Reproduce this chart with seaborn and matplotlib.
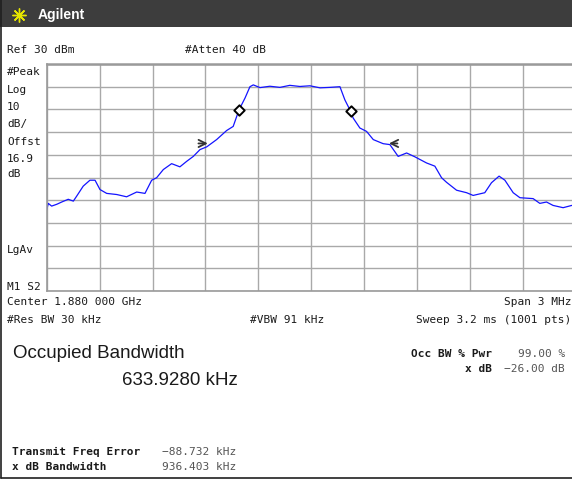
import numpy as np
import pandas as pd
import matplotlib
matplotlib.use("Agg")
import matplotlib.pyplot as plt
from matplotlib.patches import Rectangle
from matplotlib.lines import Line2D
import seaborn as sns

# trace: offset from 1.880 GHz centre (kHz) and level (dBm)
offset_khz = [-1500, -1491, -1472, -1443, -1415, -1378, -1349, -1330, -1293, -1255,
              -1226, -1198, -1160, -1103, -1047, -990, -943, -905, -877, -839,
              -792, -745, -707, -669, -631, -593, -537, -480, -443, -410,
              -376, -348, -329, -291, -235, -178, -122, -65, -8, 49,
              105, 162, 190, 223, 237, 275, 313, 351, 407, 445,
              492, 540, 587, 653, 700, 738, 766, 823, 880, 917,
              983, 1021, 1064, 1097, 1144, 1182, 1257, 1295, 1333, 1370,
              1427, 1476, 1500]
level_dbm = [-34.3, -31.4, -32.6, -31.8, -30.8, -29.6, -30.4, -28.2, -23.8, -21.2,
             -21.2, -25.3, -27.0, -27.5, -28.5, -26.4, -27.0, -21.2, -20.1, -16.5,
             -13.9, -15.3, -12.9, -10.7, -7.7, -6.5, -3.3, 0.7, 2.5, 9.8,
             15.0, 20.0, 20.8, 19.6, 20.2, 19.7, 20.6, 20.1, 20.4, 19.5,
             19.7, 20.0, 14.2, 9.1, 6.2, 1.8, 0.3, -3.3, -5.1, -5.5,
             -10.7, -9.2, -10.9, -13.6, -15.0, -20.1, -22.1, -25.6, -26.7, -27.9,
             -26.7, -22.3, -19.4, -21.2, -26.7, -28.9, -29.3, -31.4, -30.8, -32.3,
             -33.3, -32.3, -32.7]

# occupied bandwidth edge markers (diamonds)
obw_khz = [-410, 224]
obw_dbm = [9.8, 9.1]

# x dB bandwidth arrows: (tail, tip) in kHz, level in dBm
arrow_tail = [-640, 488]
arrow_tip = [-587, 440]
arrow_dbm = [-5.0, -5.0]

left_labels = ["#Peak", "Log", "10", "dB/", "Offst", "16.9", "dB", "LgAv", "M1 S2"]
left_base_px = [75, 93, 110, 127, 145, 162, 177, 253, 290]

W, H = 572, 479
sns.set_style("white")
plt.rcParams['font.family'] = ['DejaVu Sans Mono', 'DejaVu Sans']

fig = plt.figure(figsize=(W / 100, H / 100), dpi=100)


def fx(px):
    return px / W


def fy(py):
    return 1 - py / H


# header bar
fig.add_artist(Rectangle((0, fy(27)), 1, 27 / H, transform=fig.transFigure,
                         facecolor='#3d3d3d', edgecolor='none'))
fig.add_artist(Line2D([fx(19)], [fy(15)], marker=(8, 2, 0), markersize=10,
                      color='#e6e600', mew=1.0, transform=fig.transFigure))
fig.text(fx(38), fy(15), "Agilent", color='white', fontsize=10, fontweight='bold',
         family=['Liberation Sans', 'DejaVu Sans'], va='center', ha='left')

# outer frame (left / bottom)
fig.add_artist(Line2D([fx(1), fx(1)], [fy(0), fy(478)], color='#202020', lw=1.2,
                      transform=fig.transFigure))
fig.add_artist(Line2D([fx(1), 1], [fy(478), fy(478)], color='#202020', lw=1.2,
                      transform=fig.transFigure))

# plot area, runs off the right edge of the screenshot
x0, x1, y0, y1 = 46.7, 576.0, 64.0, 291.0
ax = fig.add_axes([fx(x0), fy(y1), (x1 - x0) / W, (y1 - y0) / H])
ax.set_xlim(-1500, 1500)
ax.set_ylim(-70, 30)
ax.set_xticks(np.arange(-1500, 1501, 300))
ax.set_yticks(np.arange(-70, 31, 10))
ax.tick_params(length=0, labelbottom=False, labelleft=False)
ax.grid(True, color='#a9a9a9', lw=1.0)
for s in ax.spines.values():
    s.set_color('#9a9a9a')
    s.set_linewidth(1.2)
ax.spines['top'].set_linewidth(1.8)

df = pd.DataFrame({"offset": offset_khz, "level": level_dbm})
sns.lineplot(data=df, x="offset", y="level", ax=ax, color='#1414ff', lw=0.9,
             sort=False, estimator=None)
sns.scatterplot(x=obw_khz, y=obw_dbm, ax=ax, marker='D', s=28, facecolor='white',
                edgecolor='black', linewidth=1.4, zorder=5)
for t, h, l in zip(arrow_tail, arrow_tip, arrow_dbm):
    ax.annotate('', xy=(h, l), xytext=(t, l),
                arrowprops=dict(arrowstyle='->', color='#333333', lw=1.3,
                                shrinkA=0, shrinkB=0, mutation_scale=13))
ax.set_xlabel("")
ax.set_ylabel("")

txt = '#1a1a1a'
val = '#555555'
small = 8

fig.text(fx(7), fy(53), "Ref 30 dBm", fontsize=small, color=txt, va='baseline')
fig.text(fx(185), fy(53), "#Atten 40 dB", fontsize=small, color=txt, va='baseline')
for lab, b in zip(left_labels, left_base_px):
    fig.text(fx(7), fy(b), lab, fontsize=small, color=txt, va='baseline')

fig.text(fx(7), fy(305), "Center 1.880 000 GHz", fontsize=small, color=txt, va='baseline')
fig.text(fx(571), fy(305), "Span 3 MHz", fontsize=small, color=txt, va='baseline', ha='right')
fig.text(fx(7), fy(323), "#Res BW 30 kHz", fontsize=small, color=txt, va='baseline')
fig.text(fx(250), fy(323), "#VBW 91 kHz", fontsize=small, color=txt, va='baseline')
fig.text(fx(571), fy(323), "Sweep 3.2 ms (1001 pts)", fontsize=small, color=txt,
         va='baseline', ha='right')

big = ['Liberation Sans', 'DejaVu Sans']
fig.text(fx(13), fy(358), "Occupied Bandwidth", fontsize=13.5, color=txt, family=big,
         va='baseline')
fig.text(fx(238), fy(385), "633.9280 kHz", fontsize=13.5, color=txt, family=big,
         va='baseline', ha='right')

fig.text(fx(492), fy(357), "Occ BW % Pwr", fontsize=small, fontweight='bold', color=txt,
         va='baseline', ha='right')
fig.text(fx(565), fy(357), "99.00 %", fontsize=small, color=val, va='baseline', ha='right')
fig.text(fx(492), fy(372), "x dB", fontsize=small, fontweight='bold', color=txt,
         va='baseline', ha='right')
fig.text(fx(565), fy(372), "\u221226.00 dB", fontsize=small, color=val, va='baseline', ha='right')

fig.text(fx(12), fy(455), "Transmit Freq Error", fontsize=small, fontweight='bold', color=txt,
         va='baseline')
fig.text(fx(162), fy(455), "\u221288.732 kHz", fontsize=small, color=val, va='baseline')
fig.text(fx(12), fy(470), "x dB Bandwidth", fontsize=small, fontweight='bold', color=txt,
         va='baseline')
fig.text(fx(162), fy(470), "936.403 kHz", fontsize=small, color=val, va='baseline')

fig.savefig("out.png", dpi=100)
